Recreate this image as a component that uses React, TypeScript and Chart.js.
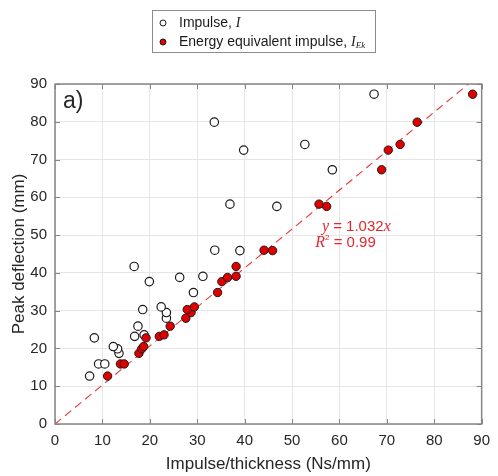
import { useEffect, useRef } from "react";
import { Chart, registerables } from "chart.js";

Chart.register(...registerables);

// Peak deflection (mm), shared by both series
const deflection = [12.7, 15.9, 15.9, 18.7, 19.9, 20.5, 22.8, 23.2, 23.6, 25.9, 28.0, 29.5, 30.3, 31.0, 34.8, 37.7, 38.8, 39.1, 41.7, 46.0, 45.9, 57.6, 58.2, 67.3, 72.5, 74.0, 79.9, 87.3];
// Impulse/thickness (Ns/mm) — Impulse, I
const impulse = [7.3, 9.2, 10.5, 13.5, 13.2, 12.3, 8.3, 16.8, 18.8, 17.5, 23.5, 23.5, 18.5, 22.4, 29.2, 19.9, 26.3, 31.2, 16.7, 33.7, 39.0, 46.8, 36.9, 58.5, 39.8, 52.7, 33.6, 67.3];
// Impulse/thickness (Ns/mm) — Energy equivalent impulse, I_Ek
const energyImpulse = [11.1, 13.8, 14.6, 17.7, 18.3, 18.7, 19.2, 22.0, 23.0, 24.3, 27.6, 28.7, 27.9, 29.4, 34.3, 35.2, 36.4, 38.2, 38.2, 44.1, 45.9, 57.3, 55.7, 68.9, 70.3, 72.8, 76.4, 88.1];

const xTicks = [0, 10, 20, 30, 40, 50, 60, 70, 80, 90];
const yTicks = [0, 10, 20, 30, 40, 50, 60, 70, 80, 90];
const fitSlope = 1.032;
const fitLabel = "1.032";
const r2Label = "0.99";

const SANS = "'Liberation Sans', Arial, sans-serif";
const SERIF = "'Liberation Serif', 'Times New Roman', serif";
const TEXT = "#262626";
const RED = "#e6262e";

type Seg = { t: string; font: string; dy?: number };

function drawSegs(ctx: CanvasRenderingContext2D, segs: Seg[], x: number, y: number, color: string) {
  ctx.save();
  ctx.fillStyle = color;
  ctx.textBaseline = "middle";
  ctx.textAlign = "left";
  let cx = x;
  for (const s of segs) {
    ctx.font = s.font;
    ctx.fillText(s.t, cx, y + (s.dy || 0));
    cx += ctx.measureText(s.t).width;
  }
  ctx.restore();
}

const decorPlugin = {
  id: "decor",
  afterDraw(chart: any) {
    const ctx: CanvasRenderingContext2D = chart.ctx;
    const { left, right, top, bottom } = chart.chartArea;
    const xs = chart.scales.x;
    const ys = chart.scales.y;
    ctx.save();
    // frame
    ctx.strokeStyle = "#858585";
    ctx.lineWidth = 1.5;
    ctx.strokeRect(left, top, right - left, bottom - top);
    // inward ticks
    ctx.lineWidth = 1;
    ctx.beginPath();
    for (const v of xTicks) {
      const px = Math.round(xs.getPixelForValue(v)) + 0.5;
      ctx.moveTo(px, bottom);
      ctx.lineTo(px, bottom - 5);
      ctx.moveTo(px, top);
      ctx.lineTo(px, top + 5);
    }
    for (const v of yTicks) {
      const py = Math.round(ys.getPixelForValue(v)) + 0.5;
      ctx.moveTo(left, py);
      ctx.lineTo(left + 5, py);
      ctx.moveTo(right, py);
      ctx.lineTo(right - 5, py);
    }
    ctx.stroke();

    // panel label
    ctx.fillStyle = TEXT;
    ctx.font = `23px ${SANS}`;
    ctx.textBaseline = "middle";
    ctx.fillText("a)", left + 8, top + 18);

    // equation
    const ex = xs.getPixelForValue(56.3);
    const ey = ys.getPixelForValue(52.2);
    drawSegs(ctx, [
      { t: "y", font: `italic 16px ${SERIF}` },
      { t: ` = ${fitLabel}`, font: `15px ${SANS}` },
      { t: "x", font: `italic 16px ${SERIF}` },
    ], ex, ey, RED);
    const rx = xs.getPixelForValue(54.9);
    const ry = ys.getPixelForValue(48.0);
    drawSegs(ctx, [
      { t: "R", font: `italic 16px ${SERIF}` },
      { t: "2", font: `8px ${SANS}`, dy: -5 },
      { t: ` = ${r2Label}`, font: `15px ${SANS}` },
    ], rx, ry, RED);

    // legend
    ctx.strokeStyle = "#8c8c8c";
    ctx.lineWidth = 1;
    ctx.fillStyle = "#ffffff";
    ctx.fillRect(152.5, 10.5, 223, 42);
    ctx.strokeRect(152.5, 10.5, 223, 42);
    ctx.lineWidth = 1;
    ctx.strokeStyle = "#1a1a1a";
    ctx.beginPath();
    ctx.arc(163, 23, 3, 0, Math.PI * 2);
    ctx.fillStyle = "#ffffff";
    ctx.fill();
    ctx.stroke();
    ctx.beginPath();
    ctx.arc(163, 42, 3, 0, Math.PI * 2);
    ctx.fillStyle = "#e00000";
    ctx.fill();
    ctx.stroke();
    drawSegs(ctx, [
      { t: "Impulse, ", font: `14px ${SANS}` },
      { t: "I", font: `italic 14px ${SERIF}` },
    ], 179, 23, "#1a1a1a");
    drawSegs(ctx, [
      { t: "Energy equivalent impulse, ", font: `14px ${SANS}` },
      { t: "I", font: `italic 14px ${SERIF}` },
      { t: "Ek", font: `italic 9px ${SERIF}`, dy: 4 },
    ], 179, 42, "#1a1a1a");
    ctx.restore();
  },
};

export default function App() {
  const ref = useRef<HTMLCanvasElement | null>(null);
  useEffect(() => {
    document.body.style.margin = "0";
    if (!ref.current) return;
    const xMax = xTicks[xTicks.length - 1];
    const chart = new Chart(ref.current, {
      type: "scatter",
      data: {
        datasets: [
          {
            label: "Energy equivalent impulse, I_Ek",
            data: energyImpulse.map((x, i) => ({ x, y: deflection[i] })),
            backgroundColor: "#e00000",
            borderColor: "#1a1a1a",
            borderWidth: 1,
            pointRadius: 4.2,
            order: 0,
          },
          {
            label: "Impulse, I",
            data: impulse.map((x, i) => ({ x, y: deflection[i] })),
            backgroundColor: "#ffffff",
            borderColor: "#1a1a1a",
            borderWidth: 1.2,
            pointRadius: 4.2,
            order: 1,
          },
          {
            type: "line",
            label: "fit",
            data: [
              { x: 0, y: 0 },
              { x: xMax, y: fitSlope * xMax },
            ],
            borderColor: "rgba(228,50,50,0.95)",
            borderWidth: 1.1,
            borderDash: [8, 5],
            pointRadius: 0,
            fill: false,
            order: 2,
          } as any,
        ],
      },
      options: {
        responsive: false,
        animation: false,
        devicePixelRatio: 1,
        layout: { padding: { top: 84, right: 8, left: 0, bottom: 0 } },
        plugins: { legend: { display: false }, tooltip: { enabled: false } },
        scales: {
          x: {
            type: "linear",
            min: 0,
            max: 90,
            afterFit: (s: any) => {
              s.height = 52;
            },
            afterBuildTicks: (s: any) => {
              s.ticks = xTicks.map((v) => ({ value: v }));
            },
            ticks: { color: TEXT, font: { family: SANS, size: 15 }, padding: 8 },
            grid: { color: "#e6e6e6", drawTicks: false },
            border: { display: false },
            title: {
              display: true,
              text: "Impulse/thickness (Ns/mm)",
              color: TEXT,
              font: { family: SANS, size: 17 },
              padding: { top: 0, bottom: 1 },
            },
          },
          y: {
            type: "linear",
            min: 0,
            max: 90,
            afterFit: (s: any) => {
              s.width = 55;
            },
            afterBuildTicks: (s: any) => {
              s.ticks = yTicks.map((v) => ({ value: v }));
            },
            ticks: { color: TEXT, font: { family: SANS, size: 15 }, padding: 8 },
            grid: { color: "#e6e6e6", drawTicks: false },
            border: { display: false },
            title: {
              display: true,
              text: "Peak deflection (mm)",
              color: TEXT,
              font: { family: SANS, size: 17 },
              padding: { top: 9, bottom: 0 },
            },
          },
        },
      },
      plugins: [decorPlugin],
    });
    return () => chart.destroy();
  }, []);
  return (
    <div style={{ width: 498, height: 476 }}>
      <canvas ref={ref} width={498} height={476} />
    </div>
  );
}
